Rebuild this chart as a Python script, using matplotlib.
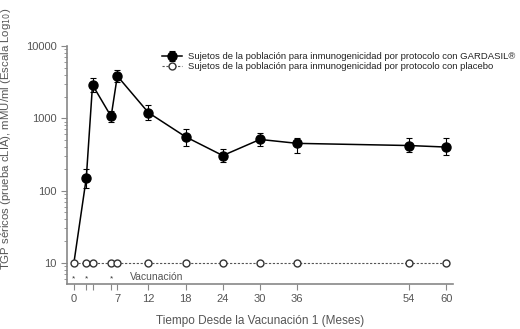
import matplotlib
matplotlib.use('Agg')
import matplotlib.pyplot as plt
import numpy as np

plt.rcParams['font.family'] = ['Liberation Sans', 'DejaVu Sans']

# datos
meses = [0, 2, 3, 6, 7, 12, 18, 24, 30, 36, 54, 60]
gardasil = [10, 150, 2900, 1060, 3850, 1200, 555, 305, 510, 450, 420, 400]
gardasil_bajo = [10, 107, 2300, 880, 3200, 950, 420, 250, 410, 330, 337, 306]
gardasil_alto = [10, 200, 3600, 1250, 4700, 1550, 700, 380, 620, 527, 527, 527]
placebo = [10] * len(meses)

xticks = [0, 2, 3, 6, 7, 12, 18, 24, 30, 36, 54, 60]
xticklabels = ['0', '', '', '', '7', '12', '18', '24', '30', '36', '54', '60']
vacunas = [0, 2, 6]

gris = '#555555'

fig = plt.figure(figsize=(5.2, 3.29), dpi=100)
ax = fig.add_axes([0.129, 0.137, 0.742, 0.723])

g = np.array(gardasil)
yerr = [g - np.array(gardasil_bajo), np.array(gardasil_alto) - g]
# el punto del mes 0 queda tapado por el circulo abierto del placebo
h1 = ax.errorbar(meses, gardasil, yerr=yerr, fmt='-o', color='black', mfc='black',
                 markersize=6.5, linewidth=1.1, elinewidth=0.8, capsize=2, capthick=0.8,
                 errorevery=(1, 1), markevery=list(range(1, len(meses))),
                 label='Sujetos de la población para inmunogenicidad por protocolo con GARDASIL®',
                 zorder=3)
h2, = ax.plot(meses, placebo, '--o', color=gris, mfc='white', mec='#333333', mew=1.0,
              markersize=5, linewidth=0.8, dashes=(2, 1.5),
              label='Sujetos de la población para inmunogenicidad por protocolo con placebo',
              zorder=4)

# asteriscos de vacunacion
for v in vacunas:
    ax.text(v, 6.0, '*', ha='center', va='center', fontsize=6, color='#333333')
ax.text(9, 6.3, 'Vacunación', ha='left', va='center', fontsize=7.5, color=gris)

ax.set_yscale('log')
ax.set_ylim(5.1, 10000)
ax.set_xlim(-1.1, 61.1)
ax.set_xticks(xticks)
ax.set_xticklabels(xticklabels)
ax.set_yticks([10, 100, 1000, 10000])
ax.set_yticklabels(['10', '100', '1000', '10000'])

for s in ['top', 'right']:
    ax.spines[s].set_visible(False)
for s in ['left', 'bottom']:
    ax.spines[s].set_color('#888888')
    ax.spines[s].set_linewidth(1.2)
ax.tick_params(axis='both', which='major', colors='#888888', labelcolor=gris,
               labelsize=8, length=4)
ax.tick_params(axis='y', which='minor', colors='#888888', length=2)

ax.set_xlabel('Tiempo Desde la Vacunación 1 (Meses)', fontsize=8.5, color=gris, labelpad=8)
ax.set_ylabel('TGP séricos (prueba cLIA), mMU/ml (Escala Log$_{10}$)', fontsize=8.2,
              color=gris)
ax.yaxis.set_label_coords(-0.14, 0.61)

leg = ax.legend(handles=[h1, h2], loc='upper left', bbox_to_anchor=(0.235, 0.99),
                frameon=False, fontsize=6.8, handlelength=2.2, handletextpad=0.6,
                labelspacing=0.1, borderaxespad=0.0)
for t in leg.get_texts():
    t.set_color('#222222')

fig.savefig('out.png', dpi=100)
